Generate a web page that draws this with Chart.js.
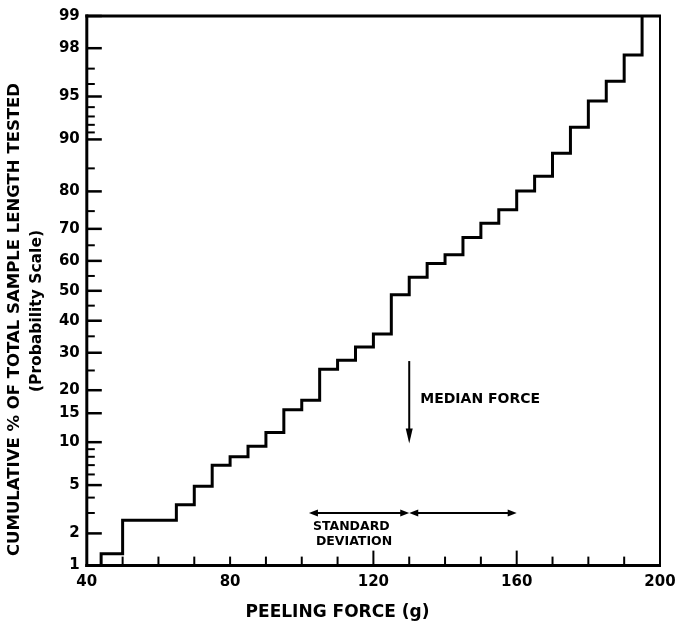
<!DOCTYPE html>
<html>
<head>
<meta charset="utf-8">
<title>Peeling force</title>
<script src="https://cdn.jsdelivr.net/npm/chart.js@4.4.1/dist/chart.umd.min.js"></script>
<style>
  html, body { margin: 0; padding: 0; background: #fff; }
  #wrap { width: 675px; height: 627px; }
</style>
</head>
<body>
<div id="wrap"><canvas id="peelChart" width="675" height="627"></canvas></div>
<script>
// step points: the level starts at each force value
var peelForce = [44, 44, 50, 65, 70, 75, 80, 85, 90, 95, 100, 105, 110, 115, 120, 125, 130,
  135, 140, 145, 150, 155, 160, 165, 170, 175, 180, 185, 190, 195];
var cumulativePct = [1, 1.3, 2.6, 3.5, 4.9, 7.0, 8.0, 9.4, 11.5, 15.7, 17.7, 25.3, 27.8, 31.7, 35.7, 48.7, 54.6,
  59.1, 62.0, 67.4, 71.6, 75.4, 80.1, 83.4, 87.8, 91.7, 94.6, 96.2, 97.7, 99];

var yLabelTicks = [1, 2, 5, 10, 15, 20, 30, 40, 50, 60, 70, 80, 90, 95, 98, 99];
var yMinorTicks = [3, 4, 6, 7, 8, 9, 25, 35, 45, 55, 65, 75, 85, 91, 92, 93, 94, 96, 97];
var xLabelTicks = [40, 80, 120, 160, 200];
var xMinorTicks = [50, 60, 70, 80, 90, 100, 110, 130, 140, 150, 170, 180, 190];
var xLongTicks = [120, 160];

// annotations (data units)
var medianForce = 130;
var medianArrowFrom = 27.6;
var medianArrowTo = 9.8;
var medianTextPct = 17.8;
var sdLow = 102;
var sdHigh = 160;
var sdPct = 3.0;

var FONT = '"DejaVu Sans", "Liberation Sans", sans-serif';

// inverse normal cdf (Acklam)
function probit(p) {
  var a = [-39.69683028665376, 220.9460984245205, -275.9285104469687, 138.3577518672690, -30.66479806614716, 2.506628277459239];
  var b = [-54.47609879822406, 161.5858368580409, -155.6989798598866, 66.80131188771972, -13.28068155288572];
  var c = [-7.784894002430293e-03, -0.3223964580411365, -2.400758277161838, -2.549732539343734, 4.374664141464968, 2.938163982698783];
  var d = [7.784695709041462e-03, 0.3224671290700398, 2.445134137142996, 3.754408661907416];
  var lo = 0.02425, q, r;
  if (p < lo) {
    q = Math.sqrt(-2 * Math.log(p));
    return (((((c[0]*q+c[1])*q+c[2])*q+c[3])*q+c[4])*q+c[5]) / ((((d[0]*q+d[1])*q+d[2])*q+d[3])*q+1);
  }
  if (p > 1 - lo) {
    q = Math.sqrt(-2 * Math.log(1 - p));
    return -(((((c[0]*q+c[1])*q+c[2])*q+c[3])*q+c[4])*q+c[5]) / ((((d[0]*q+d[1])*q+d[2])*q+d[3])*q+1);
  }
  q = p - 0.5; r = q * q;
  return (((((a[0]*r+a[1])*r+a[2])*r+a[3])*r+a[4])*r+a[5])*q / (((((b[0]*r+b[1])*r+b[2])*r+b[3])*r+b[4])*r+1);
}

function normCdf(z) {
  var t = 1 / (1 + 0.3275911 * Math.abs(z) / Math.SQRT2);
  var e = 1 - (((((1.061405429*t - 1.453152027)*t) + 1.421413741)*t - 0.284496736)*t + 0.254829592)*t * Math.exp(-z*z/2);
  return z >= 0 ? 0.5 * (1 + e) : 0.5 * (1 - e);
}

// probability (normal) axis, values in percent
class ProbabilityScale extends Chart.Scale {
  determineDataLimits() {
    this.min = this.options.min;
    this.max = this.options.max;
  }
  buildTicks() {
    return yLabelTicks.map(function(v) { return { value: v }; });
  }
  configure() {
    super.configure();
    this._zMin = probit(this.min / 100);
    this._zMax = probit(this.max / 100);
  }
  getLabelForValue(v) {
    return v + '%';
  }
  getPixelForValue(v) {
    var p = Math.min(Math.max(v, 0.001), 99.999) / 100;
    return this.getPixelForDecimal((probit(p) - this._zMin) / (this._zMax - this._zMin));
  }
  getValueForPixel(px) {
    var z = this._zMin + this.getDecimalForPixel(px) * (this._zMax - this._zMin);
    return 100 * normCdf(z);
  }
}
ProbabilityScale.id = 'probability';
ProbabilityScale.defaults = {};
Chart.register(ProbabilityScale);

function seg(ctx, x1, y1, x2, y2, w) {
  ctx.lineWidth = w;
  ctx.beginPath();
  ctx.moveTo(x1, y1);
  ctx.lineTo(x2, y2);
  ctx.stroke();
}

function head(ctx, tipX, tipY, dx, dy, len, half) {
  // dx, dy: unit direction the arrow points to
  var bx = tipX - dx * len, by = tipY - dy * len;
  ctx.beginPath();
  ctx.moveTo(tipX, tipY);
  ctx.lineTo(bx - dy * half, by + dx * half);
  ctx.lineTo(bx + dy * half, by - dx * half);
  ctx.closePath();
  ctx.fill();
}

var paperMarks = {
  id: 'paperMarks',
  afterDatasetsDraw: function(chart) {
    var ctx = chart.ctx, a = chart.chartArea;
    var xs = chart.scales.x, ys = chart.scales.y;
    ctx.save();
    ctx.strokeStyle = '#000';
    ctx.fillStyle = '#000';

    // frame
    seg(ctx, a.left, a.top - 1.5, a.left, a.bottom + 1.5, 3);
    seg(ctx, a.left - 1.5, a.bottom, a.right + 1, a.bottom, 3);
    seg(ctx, a.left - 1.5, a.top, a.right + 1, a.top, 3);
    seg(ctx, a.right, a.top, a.right, a.bottom, 2);

    // inward ticks
    yLabelTicks.forEach(function(v) {
      var py = ys.getPixelForValue(v);
      seg(ctx, a.left, py, a.left + 15, py, 2.5);
    });
    yMinorTicks.forEach(function(v) {
      var py = ys.getPixelForValue(v);
      seg(ctx, a.left, py, a.left + 8, py, 2);
    });
    xMinorTicks.forEach(function(v) {
      var px = xs.getPixelForValue(v);
      seg(ctx, px, a.bottom, px, a.bottom - 9, 2);
    });
    xLongTicks.forEach(function(v) {
      var px = xs.getPixelForValue(v);
      seg(ctx, px, a.bottom, px, a.bottom - 15, 2);
    });

    // median force arrow
    var mx = xs.getPixelForValue(medianForce);
    var mTop = ys.getPixelForValue(medianArrowFrom);
    var mTip = ys.getPixelForValue(medianArrowTo);
    seg(ctx, mx, mTop, mx, mTip - 8, 2);
    head(ctx, mx, mTip, 0, 1, 15, 3.5);

    ctx.font = 'bold 14px ' + FONT;
    ctx.textBaseline = 'middle';
    ctx.textAlign = 'left';
    ctx.fillText('MEDIAN FORCE', mx + 11, ys.getPixelForValue(medianTextPct));

    // standard deviation arrows
    var sy = ys.getPixelForValue(sdPct);
    var sl = xs.getPixelForValue(sdLow), sm = mx, sh = xs.getPixelForValue(sdHigh);
    seg(ctx, sl + 4, sy, sm - 4, sy, 2);
    seg(ctx, sm + 4, sy, sh - 4, sy, 2);
    head(ctx, sl, sy, -1, 0, 9, 3.5);
    head(ctx, sm, sy, 1, 0, 9, 3.5);
    head(ctx, sm, sy, -1, 0, 9, 3.5);
    head(ctx, sh, sy, 1, 0, 9, 3.5);

    ctx.font = 'bold 12.5px ' + FONT;
    ctx.fillText('STANDARD', sl + 4, sy + 14);
    ctx.fillText('DEVIATION', sl + 7, sy + 29);

    // second line of the y title
    ctx.translate(37, 311);
    ctx.rotate(-Math.PI / 2);
    ctx.textAlign = 'center';
    ctx.font = 'bold 15.5px ' + FONT;
    ctx.fillText('(Probability Scale)', 0, 0);
    ctx.restore();
  }
};

var points = peelForce.map(function(f, i) { return { x: f, y: cumulativePct[i] }; });

var ctx = document.getElementById('peelChart');
var chart = new Chart(ctx, {
  type: 'line',
  data: {
    datasets: [{
      data: points,
      stepped: 'before',
      borderColor: '#000',
      borderWidth: 3,
      borderJoinStyle: 'miter',
      pointRadius: 0,
      fill: false
    }]
  },
  options: {
    responsive: false,
    animation: false,
    events: [],
    layout: { padding: { top: 12, left: 0, right: 0, bottom: 0 } },
    scales: {
      x: {
        type: 'linear',
        min: 40,
        max: 200,
        grid: { display: false, drawTicks: false },
        border: { display: false },
        afterBuildTicks: function(scale) {
          scale.ticks = xLabelTicks.map(function(v) { return { value: v }; });
        },
        ticks: {
          color: '#000',
          padding: 8,
          maxRotation: 0,
          autoSkip: false,
          font: { family: FONT, size: 15, weight: 'bold' }
        },
        afterFit: function(scale) {
          scale.height = 35;
          scale.paddingRight = 15;
        }
      },
      y: {
        type: 'probability',
        position: 'left',
        min: 1,
        max: 99,
        grid: { display: false, drawTicks: false },
        border: { display: false },
        ticks: {
          color: '#000',
          padding: 7,
          autoSkip: false,
          font: { family: FONT, size: 15, weight: 'bold' },
          callback: function(v) { return String(v); }
        },
        afterFit: function(scale) {
          scale.width = 62;
        }
      }
    },
    plugins: {
      legend: { display: false },
      tooltip: { enabled: false },
      title: {
        display: true,
        position: 'left',
        text: 'CUMULATIVE % OF TOTAL SAMPLE LENGTH TESTED',
        color: '#000',
        font: { family: FONT, size: 16.5, weight: 'bold', lineHeight: 1.2 },
        padding: { top: 5, bottom: 0 }
      },
      subtitle: {
        display: true,
        position: 'bottom',
        text: 'PEELING FORCE (g)',
        color: '#000',
        font: { family: FONT, size: 17, weight: 'bold', lineHeight: 1.2 },
        padding: { top: 2, bottom: 4 }
      }
    }
  },
  plugins: [paperMarks]
});
</script>
</body>
</html>
